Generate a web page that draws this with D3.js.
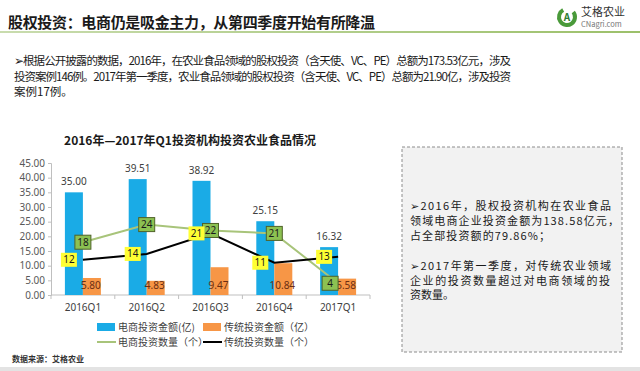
<!DOCTYPE html>
<html>
<head>
<meta charset="utf-8">
<script src="https://cdn.jsdelivr.net/npm/d3@7"></script>
<style>
  body { margin: 0; background: #fff; }
  svg { display: block; font-family: "Noto Sans CJK SC", "Noto Sans", sans-serif; }
</style>
</head>
<body>
<script>
// 数据
var quarters = ["2016Q1", "2016Q2", "2016Q3", "2016Q4", "2017Q1"];
var ecomAmount = [35.00, 39.51, 38.92, 25.15, 16.32];
var tradAmount = [5.80, 4.83, 9.47, 10.84, 5.58];
var ecomCount = [18, 24, 22, 21, 4];
var tradCount = [12, 14, 21, 11, 13];
var yTicks = [0, 5, 10, 15, 20, 25, 30, 35, 40, 45];

var legendNames = ["电商投资金额(亿)", "传统投资金额（亿）", "电商投资数量（个）", "传统投资数量（个）"];
var introLines = [
    "➢根据公开披露的数据，2016年，在农业食品领域的股权投资（含天使、VC、PE）总额为173.53亿元，涉及",
    "投资案例146例。2017年第一季度，农业食品领域的股权投资（含天使、VC、PE）总额为21.90亿，涉及投资",
    "案例17例。"
];
var boxLines = [
    "➢2016年，股权投资机构在农业食品",
    "领域电商企业投资金额为138.58亿元，",
    "占全部投资额的79.86%；",
    "",
    "➢2017年第一季度，对传统农业领域",
    "企业的投资数量超过对电商领域的投",
    "资数量。"
];
var boxWidths = [201, 209, 140, null, 201, 200, null];

var W = 640, H = 371;
var svg = d3.select("body").append("svg")
    .attr("width", W)
    .attr("height", H);

// 页眉
svg.append("text")
    .attr("x", 8).attr("y", 28)
    .style("font-size", "15px").style("font-weight", "bold").style("fill", "#1a1a1a")
    .attr("textLength", 367).attr("lengthAdjust", "spacing")
    .text("股权投资：电商仍是吸金主力，从第四季度开始有所降温");

var grad = svg.append("defs").append("linearGradient").attr("id", "hdr");
grad.append("stop").attr("offset", "0%").attr("stop-color", "#c9dcae");
grad.append("stop").attr("offset", "100%").attr("stop-color", "#9cc06a");
svg.append("rect").attr("x", 0).attr("y", 31).attr("width", W).attr("height", 2).attr("fill", "url(#hdr)");

// logo
var logo = svg.append("g").attr("transform", "translate(567,17)");
logo.append("path")
    .attr("d", d3.arc().innerRadius(6).outerRadius(10).startAngle(0.9).endAngle(2 * Math.PI - 0.5)())
    .attr("fill", "#4a9a3a");
logo.append("text").attr("x", 0).attr("y", 4).attr("text-anchor", "middle")
    .style("font-size", "10px").style("font-weight", "bold").style("fill", "#2e7d32").text("A");
logo.append("text").attr("x", 14).attr("y", -1)
    .style("font-size", "11px").style("fill", "#333").text("艾格农业");
logo.append("text").attr("x", 14).attr("y", 10)
    .style("font-size", "7.5px").style("fill", "#777").text("CNagri.com");

// 说明文字
svg.selectAll(".intro").data(introLines).enter().append("text")
    .attr("class", "intro")
    .attr("x", 14)
    .attr("y", function(d, i) { return 65 + i * 15.5; })
    .attr("textLength", function(d, i) { return i < 2 ? 497 : null; })
    .attr("lengthAdjust", "spacing")
    .style("font-size", "11.5px").style("fill", "#1a1a1a")
    .text(function(d) { return d; });

// 图表
var x = d3.scaleBand().domain(quarters).range([51, 370]);
var y = d3.scaleLinear().domain([0, 45]).range([295, 163]);
var barW = 18;
var cx = function(d) { return x(d) + x.bandwidth() / 2; };

svg.append("text")
    .attr("x", 190).attr("y", 145).attr("text-anchor", "middle")
    .style("font-size", "12px").style("font-weight", "bold").style("fill", "#1a1a1a")
    .text("2016年—2017年Q1投资机构投资农业食品情况");

// y轴
var yAxis = svg.append("g")
    .attr("transform", "translate(51,0)")
    .call(d3.axisLeft(y).tickValues(yTicks).tickFormat(d3.format(".2f")).tickSize(3));
yAxis.selectAll("path, line").attr("stroke", "#bfbfbf");
yAxis.selectAll("text").style("font-size", "10px").style("fill", "#595959")
    .style("font-family", "\"Noto Sans\", sans-serif");

// x轴
svg.append("line").attr("x1", 51).attr("x2", 370).attr("y1", y(0)).attr("y2", y(0)).attr("stroke", "#bfbfbf");
svg.selectAll(".xtick").data(quarters.concat(["end"])).enter().append("line")
    .attr("x1", function(d, i) { return 51 + i * x.bandwidth(); })
    .attr("x2", function(d, i) { return 51 + i * x.bandwidth(); })
    .attr("y1", y(0)).attr("y2", y(0) + 4)
    .attr("stroke", "#bfbfbf");
svg.selectAll(".xlab").data(quarters).enter().append("text")
    .attr("x", cx).attr("y", y(0) + 16).attr("text-anchor", "middle")
    .style("font-size", "10px").style("fill", "#404040")
    .style("font-family", "\"Noto Sans\", sans-serif")
    .text(function(d) { return d; });

// 柱
svg.selectAll(".bar1").data(ecomAmount).enter().append("rect")
    .attr("x", function(d, i) { return cx(quarters[i]) - barW; })
    .attr("y", function(d) { return y(d); })
    .attr("width", barW)
    .attr("height", function(d) { return y(0) - y(d); })
    .attr("fill", "#1aabe6");
svg.selectAll(".bar2").data(tradAmount).enter().append("rect")
    .attr("x", function(d, i) { return cx(quarters[i]); })
    .attr("y", function(d) { return y(d); })
    .attr("width", barW)
    .attr("height", function(d) { return y(0) - y(d); })
    .attr("fill", "#f79646");

svg.selectAll(".lab1").data(ecomAmount).enter().append("text")
    .attr("x", function(d, i) { return cx(quarters[i]) - barW / 2; })
    .attr("y", function(d) { return y(d) - 7; })
    .attr("text-anchor", "middle")
    .style("font-size", "10px").style("fill", "#404040")
    .style("font-family", "\"Noto Sans\", sans-serif")
    .text(function(d) { return d.toFixed(2); });
svg.selectAll(".lab2").data(tradAmount).enter().append("text")
    .attr("x", function(d, i) { return cx(quarters[i]) + barW / 2 - 1; })
    .attr("y", y(0) - 6)
    .attr("text-anchor", "middle")
    .style("font-size", "10px").style("fill", "#6b2e14")
    .style("font-family", "\"Noto Sans\", sans-serif")
    .text(function(d) { return d.toFixed(2); });

// 折线
var line = d3.line()
    .x(function(d, i) { return cx(quarters[i]); })
    .y(function(d) { return y(d); });
svg.append("path").datum(ecomCount).attr("d", line)
    .attr("fill", "none").attr("stroke", "#a8c47a").attr("stroke-width", 2);
svg.append("path").datum(tradCount).attr("d", line)
    .attr("fill", "none").attr("stroke", "#000").attr("stroke-width", 2);

function addBoxes(data, cls, dx, fill, stroke) {
    var g = svg.selectAll("." + cls).data(data).enter().append("g")
        .attr("transform", function(d, i) {
            var ox = typeof dx === "function" ? dx(i) : dx;
            return "translate(" + (cx(quarters[i]) + ox) + "," + y(d) + ")";
        });
    g.append("rect").attr("x", -8).attr("y", -7).attr("width", 16).attr("height", 14)
        .attr("fill", fill).attr("stroke", stroke).attr("stroke-width", stroke === "none" ? 0 : 1);
    g.append("text").attr("y", 3.5).attr("text-anchor", "middle")
        .style("font-size", "10px").style("fill", "#1a1a1a")
        .style("font-family", "\"Noto Sans\", sans-serif")
        .text(function(d) { return d; });
}
addBoxes(ecomCount, "gb", function(i) { return i === 4 ? -8 : 0; }, "#8cc152", "#4f6228");
addBoxes(tradCount, "yb", -14, "#ffff33", "none");

// 图例
var lg = svg.append("g");
var legendPos = [[97, 327], [203, 327], [97, 342], [203, 342]];
legendNames.forEach(function(name, i) {
    var p = legendPos[i];
    if (i < 2) {
        lg.append("rect").attr("x", p[0]).attr("y", p[1] - 4).attr("width", 18).attr("height", 8)
            .attr("fill", i === 0 ? "#1aabe6" : "#f79646");
    } else {
        lg.append("line").attr("x1", p[0]).attr("x2", p[0] + 19).attr("y1", p[1]).attr("y2", p[1])
            .attr("stroke", i === 2 ? "#a8c47a" : "#000").attr("stroke-width", 2);
    }
    lg.append("text").attr("x", p[0] + 21).attr("y", p[1] + 3.5)
        .style("font-size", "10px").style("fill", "#404040").text(name);
});

svg.append("text").attr("x", 12).attr("y", 362)
    .style("font-size", "8px").style("font-weight", "bold").style("fill", "#333")
    .text("数据来源：艾格农业");

// 右侧文本框
svg.append("rect").attr("x", 402).attr("y", 147).attr("width", 220).attr("height", 205)
    .attr("fill", "#f2f2f2").attr("stroke", "#8c8c8c").attr("stroke-dasharray", "3,2");
svg.selectAll(".box").data(boxLines).enter().append("text")
    .attr("x", 410)
    .attr("y", function(d, i) { return 210 + i * 14.9; })
    .attr("textLength", function(d, i) { return boxWidths[i]; })
    .attr("lengthAdjust", "spacing")
    .style("font-size", "11px").style("fill", "#1a1a1a")
    .text(function(d) { return d; });

// 底部灰条
svg.append("rect").attr("x", 0).attr("y", 367).attr("width", W).attr("height", 4).attr("fill", "#e3e3e3");
</script>
</body>
</html>
